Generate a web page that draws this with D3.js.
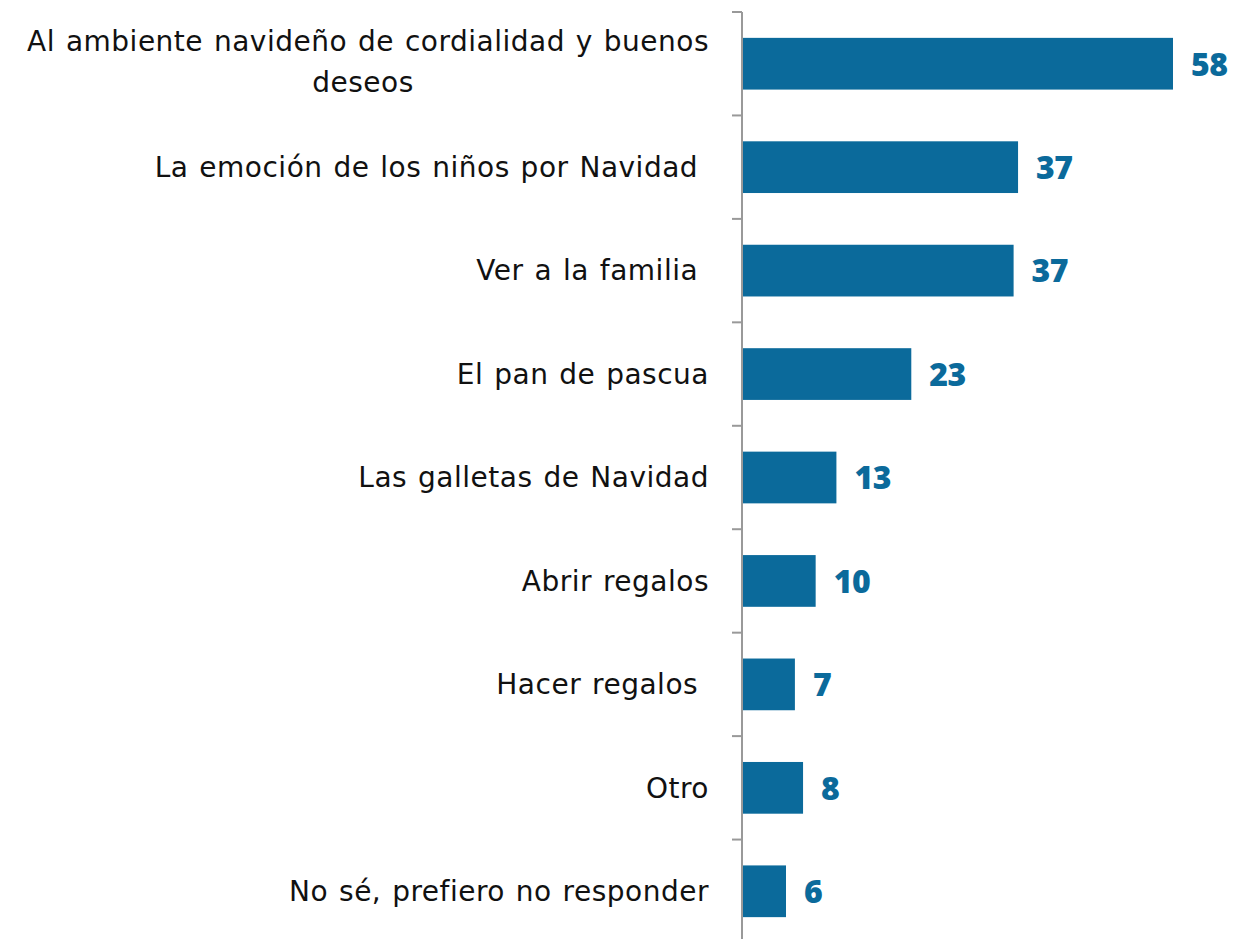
<!DOCTYPE html>
<html>
<head>
<meta charset="utf-8">
<script src="https://cdn.jsdelivr.net/npm/d3@7"></script>
<style>
  body { margin: 0; background: #fff; }
  svg text { font-family: "DejaVu Sans", sans-serif; }
  svg text.vals { font-family: "Open Sans", sans-serif; }
</style>
</head>
<body>
<div id="plot"></div>
<script>
// categories and values
var categories = [
     "Al ambiente navideño de cordialidad y buenos deseos",
     "La emoción de los niños por Navidad ",
     "Ver a la familia ",
     "El pan de pascua",
     "Las galletas de Navidad",
     "Abrir regalos",
     "Hacer regalos ",
     "Otro",
     "No sé, prefiero no responder"
];
var values = [58, 37.1, 36.5, 22.7, 12.6, 9.8, 7.0, 8.1, 5.8];
var valueLabels = ["58", "37", "37", "23", "13", "10", "7", "8", "6"];

var chartWidth = 1234;
var chartHeight = 939;
const margin = {top: 12, right: 61, bottom: -4, left: 743};

var dataset = categories.map(function(c, i) {
     return {cat: c, val: values[i], lab: valueLabels[i]};
});

var svg = d3.select("#plot")
     .append("svg")
     .attr("width", chartWidth)
     .attr("height", chartHeight);

var scaleY = d3.scaleBand()
     .domain(categories)
     .range([margin.top, chartHeight - margin.bottom])
     .paddingInner(0.5)
     .paddingOuter(0.25);

var scaleX = d3.scaleLinear()
     .domain([0, 58])
     .range([margin.left, chartWidth - margin.right]);

// bars
svg.selectAll(".bars")
     .data(dataset)
     .enter()
     .append("rect")
     .attr("class", "bars")
     .attr("x", scaleX(0))
     .attr("y", function(d) { return scaleY(d.cat); })
     .attr("width", function(d) { return scaleX(d.val) - scaleX(0); })
     .attr("height", scaleY.bandwidth())
     .attr("fill", "#0b6a9b");

// value labels
svg.selectAll(".vals")
     .data(dataset)
     .enter()
     .append("text")
     .attr("class", "vals")
     .attr("x", function(d) { return scaleX(d.val) + 18; })
     .attr("y", function(d) { return scaleY(d.cat) + scaleY.bandwidth() / 2; })
     .attr("dy", "0.37em")
     .attr("fill", "#0b6a9b")
     .style("font-size", "32px")
     .style("font-weight", 800)
     .style("letter-spacing", "-0.5px")
     .text(function(d) { return d.lab; });

// axis line with ticks between categories
var step = scaleY.step();
var bounds = d3.range(categories.length + 1).map(function(i) { return margin.top + i * step; });

svg.append("line")
     .attr("x1", margin.left - 1).attr("x2", margin.left - 1)
     .attr("y1", margin.top).attr("y2", chartHeight)
     .attr("stroke", "#999")
     .attr("stroke-width", 2);

svg.selectAll(".tick")
     .data(bounds.slice(0, categories.length))
     .enter()
     .append("line")
     .attr("class", "tick")
     .attr("x1", margin.left - 11).attr("x2", margin.left - 1)
     .attr("y1", function(d) { return d; })
     .attr("y2", function(d) { return d; })
     .attr("stroke", "#999")
     .attr("stroke-width", 2);

// category labels, wrapped when too long
var labels = svg.selectAll(".cat")
     .data(dataset)
     .enter()
     .append("text")
     .attr("class", "cat")
     .attr("text-anchor", "end")
     .attr("x", 709)
     .attr("y", function(d) { return scaleY(d.cat) + scaleY.bandwidth() / 2; })
     .attr("fill", "#111")
     .style("font-size", "28px")
     .style("letter-spacing", "0.5px")
     .style("word-spacing", "1.5px")
     .style("white-space", "pre");

var lineH = 41;
labels.each(function(d) {
     var el = d3.select(this);
     var words = d.cat.split(" ");
     var lines = [], line = [];
     var probe = el.append("tspan");
     words.forEach(function(w) {
          line.push(w);
          probe.text(line.join(" "));
          if (probe.node().getComputedTextLength() > 705 && line.length > 1) {
               line.pop();
               lines.push(line.join(" "));
               line = [w];
          }
     });
     lines.push(line.join(" "));
     probe.remove();
     var y0 = +el.attr("y") - (lines.length - 1) * lineH / 2 - (lines.length - 1) * 2;
     lines.forEach(function(t, i) {
          el.append("tspan")
               .attr("x", i == 0 ? 709 : 363)
               .attr("text-anchor", i == 0 ? "end" : "middle")
               .attr("y", y0 + i * lineH)
               .attr("dy", "0.35em")
               .text(t);
     });
});
</script>
</body>
</html>
